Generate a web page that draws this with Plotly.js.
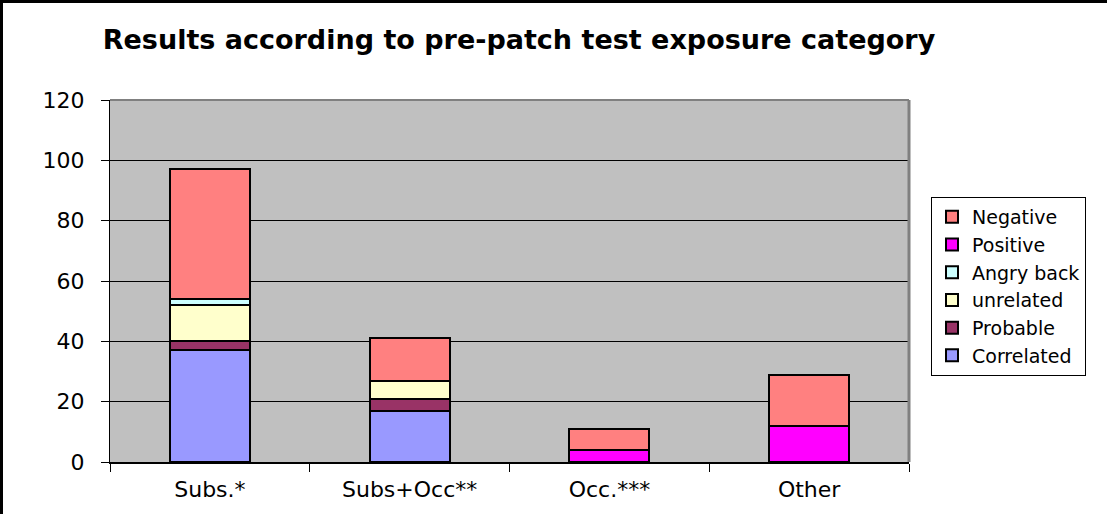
<!DOCTYPE html>
<html>
<head>
<meta charset="utf-8">
<script src="https://cdn.plot.ly/plotly-3.0.1.min.js"></script>
<style>
html,body{margin:0;padding:0;background:#fff;}
#wrap{position:relative;width:1107px;height:514px;}
#chart{width:1107px;height:514px;}
#frame{position:absolute;left:0;top:0;width:1107px;height:514px;box-sizing:border-box;border-top:3px solid #000;border-left:3px solid #000;pointer-events:none;}
</style>
</head>
<body>
<div id="wrap"><div id="chart"></div><div id="frame"></div></div>
<script>
var categories = ['Subs.*', 'Subs+Occ**', 'Occ.***', 'Other'];
var correlated = [37, 17, null, null];
var probable   = [3, 4, null, null];
var unrelated  = [12, 6, null, null];
var angryBack  = [2, null, null, null];
var positive   = [null, null, 4, 12];
var negative   = [43, 14, 7, 17];
var yTicks = [0, 20, 40, 60, 80, 100, 120];

var seriesNames  = ['Correlated', 'Probable', 'unrelated', 'Angry back', 'Positive', 'Negative'];
var seriesValues = [correlated, probable, unrelated, angryBack, positive, negative];
var seriesColors = ['#9999FF', '#993366', '#FFFFCC', '#CCFFFF', '#FF00FF', '#FF8080'];

var traces = seriesNames.map(function(n, i){
  return {
    type: 'bar', name: n, x: categories, y: seriesValues[i],
    marker: {color: seriesColors[i], line: {color: '#000', width: 2}},
    hoverinfo: 'skip'
  };
});

var FONT = 'DejaVu Sans, Arial, sans-serif';
var layout = {
  width: 1107, height: 514,
  margin: {l: 110, r: 198, t: 100, b: 52},
  paper_bgcolor: '#fff', plot_bgcolor: '#C0C0C0',
  barmode: 'stack', bargap: 0.6,
  showlegend: true,
  title: {text: 'Results according to pre-patch test exposure category',
          font: {family: FONT, size: 27, color: '#000', weight: 'bold'},
          xref: 'container', x: 519/1107, xanchor: 'center',
          yref: 'container', y: 1 - 40/514, yanchor: 'middle'},
  xaxis: {type: 'category', showline: true, linecolor: '#000', linewidth: 2,
          ticks: 'outside', tickson: 'boundaries', ticklen: 8, tickcolor: '#000', tickwidth: 1,
          ticklabelstandoff: 7,
          showgrid: false, zeroline: false,
          tickfont: {family: FONT, size: 22, color: '#000'}},
  yaxis: {range: [0, 120], tickvals: yTicks, showline: true, linecolor: '#000', linewidth: 1,
          ticks: 'outside', ticklen: 8, tickcolor: '#000', ticklabelstandoff: 12,
          showgrid: true, gridcolor: '#000', gridwidth: 1, zeroline: false,
          tickfont: {family: FONT, size: 22, color: '#000'}},
  legend: {traceorder: 'reversed', x: 821/799, xanchor: 'left', y: 265/362, yanchor: 'top',
           bgcolor: '#fff', bordercolor: '#000', borderwidth: 1,
           font: {family: FONT, size: 19, color: '#000'}},
  shapes: [
    {type: 'line', xref: 'paper', yref: 'paper', x0: 0, x1: 1, y0: 1, y1: 1, line: {color: '#808080', width: 2}},
    {type: 'line', xref: 'paper', yref: 'paper', x0: 1, x1: 1, y0: 0, y1: 1, line: {color: '#808080', width: 3}}
  ]
};

Plotly.newPlot('chart', traces, layout, {displayModeBar: false, staticPlot: true});
</script>
</body>
</html>
